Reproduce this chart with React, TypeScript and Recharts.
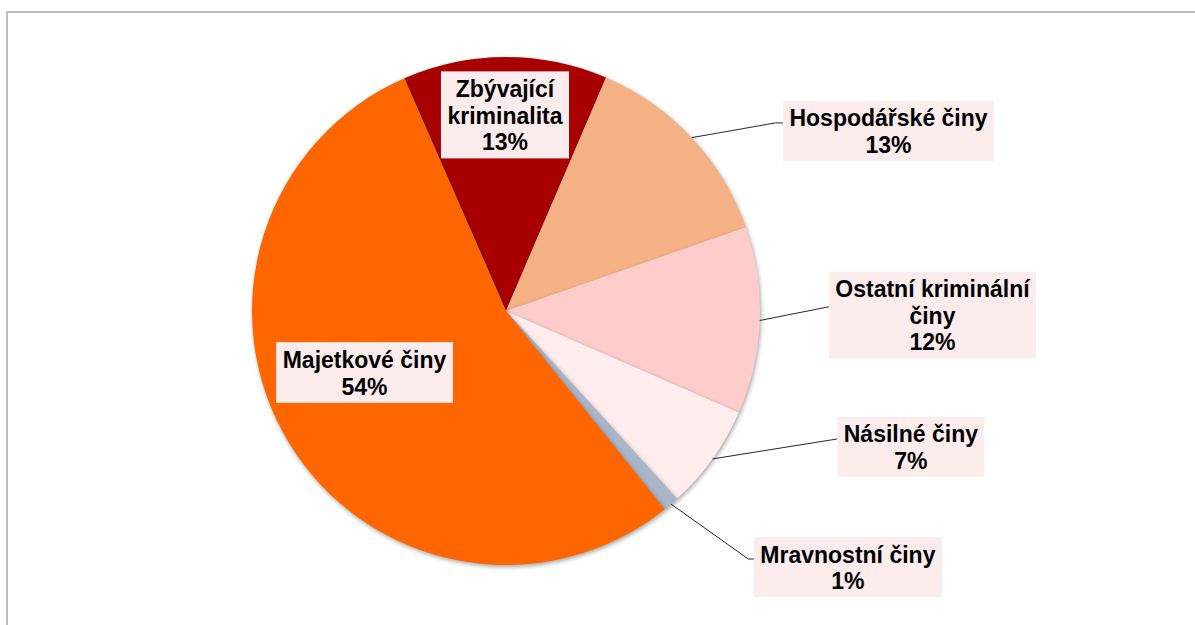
import React from 'react';
import { PieChart, Pie, Cell } from 'recharts';

// ---- data ----
const categories = [
  'Zbývající kriminalita',
  'Hospodářské činy',
  'Ostatní kriminální činy',
  'Násilné činy',
  'Mravnostní činy',
  'Majetkové činy',
];
const shares = [13.0, 13.2, 11.9, 6.7, 1.0, 54.2];
const colors = ['#A80000', '#F4B183', '#FFCCCC', '#FFEDED', '#A9B5C9', '#FF6600'];

const data = categories.map((name, i) => ({ name, value: shares[i] }));

// ---- label layout (offsets of box centre from pie centre, in outer radii) ----
const labelLayout = [
  { dx: -0.004, dy: -0.772, wrap: 125, leader: false, stub: 0 },
  { dx: 1.506, dy: -0.709, wrap: 400, leader: true, stub: 8 },
  { dx: 1.679, dy: 0.016, wrap: 210, leader: true, stub: 2 },
  { dx: 1.594, dy: 0.535, wrap: 400, leader: true, stub: 0 },
  { dx: 1.346, dy: 1.008, wrap: 400, leader: true, stub: 6 },
  { dx: -0.557, dy: 0.242, wrap: 400, leader: false, stub: 0 },
];

const FONT_FAMILY = '"Liberation Sans", Arial, sans-serif';
const FONT_SIZE = 23;
const LINE_H = 26.5;
const RAD = Math.PI / 180;

let ctx: CanvasRenderingContext2D | null = null;
const measure = (t: string) => {
  if (!ctx) {
    const c = document.createElement('canvas');
    ctx = c.getContext('2d');
  }
  if (!ctx) return t.length * 13;
  ctx.font = `bold ${FONT_SIZE}px ${FONT_FAMILY}`;
  return ctx.measureText(t).width;
};

const wrapText = (s: string, maxW: number) => {
  const words = s.split(' ');
  const lines: string[] = [];
  let cur = '';
  words.forEach((w) => {
    const test = cur ? cur + ' ' + w : w;
    if (cur && measure(test) > maxW) {
      lines.push(cur);
      cur = w;
    } else cur = test;
  });
  if (cur) lines.push(cur);
  return lines;
};

const renderLabel = (props: any) => {
  const { cx, cy, midAngle, outerRadius, index, percent, name } = props;
  const L = labelLayout[index];
  const lines = wrapText(String(name), L.wrap).concat(`${Math.round(percent * 100)}%`);
  const w = Math.max(...lines.map(measure)) + 12;
  const h = lines.length * LINE_H + 6.5;
  const bx = cx + L.dx * outerRadius;
  const by = cy + L.dy * outerRadius;
  const left = bx - w / 2;
  const top = by - h / 2;
  let leader = null;
  if (L.leader) {
    const sx = cx + outerRadius * Math.cos(-midAngle * RAD);
    const sy = cy + outerRadius * Math.sin(-midAngle * RAD);
    const ey = by - 8;
    leader = (
      <polyline
        points={`${sx},${sy} ${left - L.stub},${ey} ${left},${ey}`}
        fill="none"
        stroke="#262626"
        strokeWidth={1}
      />
    );
  }
  return (
    <g key={`lbl-${index}`}>
      {leader}
      <rect x={left} y={top} width={w} height={h} fill="#FDECEC" stroke="#F6F1F1" strokeWidth={1} />
      <text
        textAnchor="middle"
        fontFamily={FONT_FAMILY}
        fontSize={FONT_SIZE}
        fontWeight="bold"
        fill="#000"
      >
        {lines.map((t, i) => (
          <tspan key={i} x={bx} y={top + 25.3 + LINE_H * i}>
            {t}
          </tspan>
        ))}
      </text>
    </g>
  );
};

export default function App() {
  return (
    <div
      style={{
        position: 'fixed',
        left: 0,
        top: 0,
        width: 1195,
        height: 625,
        background: '#fff',
        overflow: 'hidden',
      }}
    >
      <style>{`.recharts-pie-sectors, .recharts-pie-sector { filter: drop-shadow(1px 2px 2px rgba(0,0,0,0.35)); }`}</style>
      <div
        style={{
          position: 'absolute',
          left: 6,
          top: 11,
          width: 1300,
          height: 700,
          border: '2px solid #BFBFBF',
          boxSizing: 'border-box',
        }}
      />
      <div style={{ position: 'absolute', left: 0, top: 0 }}>
        <PieChart width={1195} height={625} margin={{ top: 0, right: 0, bottom: 0, left: 0 }}>
          <Pie
            data={data}
            dataKey="value"
            nameKey="name"
            cx={506}
            cy={311}
            outerRadius={254}
            startAngle={113.6}
            endAngle={-246.4}
            stroke="none"
            label={renderLabel}
            labelLine={false}
            isAnimationActive={false}
          >
            {data.map((d, i) => (
              <Cell key={d.name} fill={colors[i]} />
            ))}
          </Pie>
        </PieChart>
      </div>
    </div>
  );
}
